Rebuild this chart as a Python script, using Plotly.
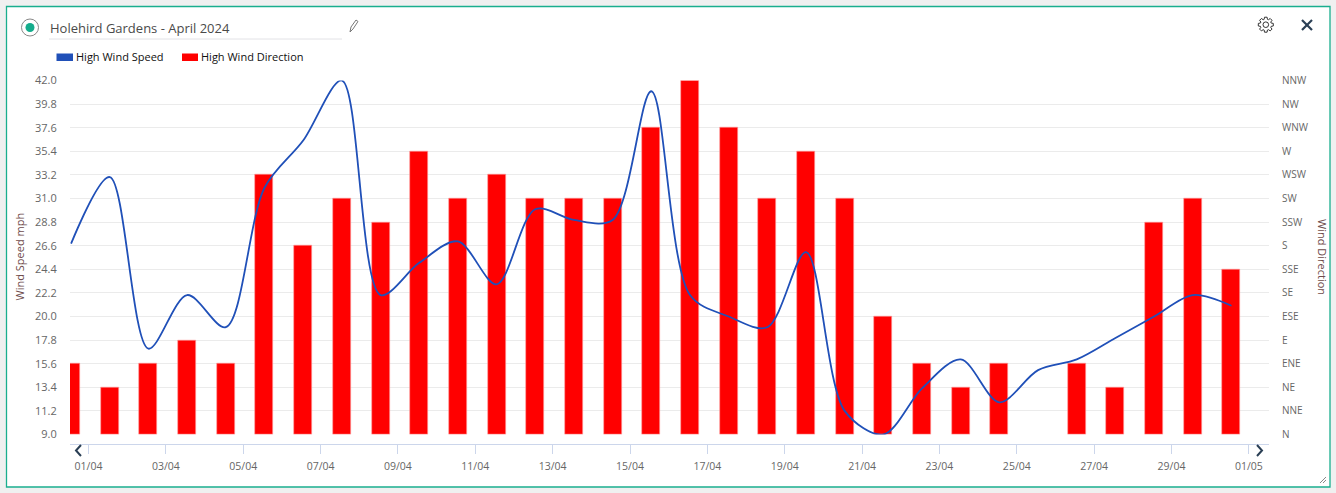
import math
import plotly.graph_objects as go

W, H = 1336, 493
FONT = "Open Sans"
day_offsets = [d - 0.45 for d in range(31)]
wind_speed = [26.8, 33, 17, 22, 19, 32, 36.4, 42, 22, 25, 27, 23, 30, 29, 29, 41,
              22, 20, 19, 26, 11.2, 9, 13.3, 16, 12, 15, 16, 18, 20, 22, 21]
direction_labels = ["N", "NNE", "NE", "ENE", "E", "ESE", "SE", "SSE", "S", "SSW", "SW",
                    "WSW", "W", "WNW", "NW", "NNW"]
wind_direction = [3, 2, 3, 4, 3, 11, 8, 10, 9, 12, 10, 11, 10, 10, 10, 13, 15, 13, 10, 12,
                  10, 5, 3, 2, 3, None, 3, 2, 9, 10, 7]
speed_ticks = [9.0, 11.2, 13.4, 15.6, 17.8, 20.0, 22.2, 24.4, 26.6, 28.8, 31.0, 33.2, 35.4,
               37.6, 39.8, 42.0]
date_tickvals = list(range(0, 31, 2))
date_labels = ["01/04", "03/04", "05/04", "07/04", "09/04", "11/04", "13/04", "15/04", "17/04",
               "19/04", "21/04", "23/04", "25/04", "27/04", "29/04", "01/05"]

BLUE = "#2050b8"
RED = "#ff0000"
TICK = "#666666"
TITLE = "#6e4a4a"

def px(x): return x / W
def py(y): return 1 - y / H

fig = go.Figure()
fig.add_trace(go.Bar(x=day_offsets, y=wind_direction, yaxis="y", name="High Wind Direction",
                     width=0.465, marker=dict(color=RED, line=dict(color="#ffa0a0", width=0.6)),
                     showlegend=False))
fig.add_trace(go.Scatter(x=day_offsets, y=wind_speed, yaxis="y2", mode="lines", name="High Wind Speed",
                         line=dict(color=BLUE, width=1.8, shape="spline", smoothing=0.9),
                         showlegend=False, cliponaxis=False))

shapes = [
    dict(type="rect", xref="paper", yref="paper", x0=px(6.5), x1=px(1330), y0=py(487), y1=py(6.5),
         line=dict(color="#1aae8e", width=1.3), fillcolor="#ffffff", layer="below"),
    dict(type="line", xref="paper", yref="paper", x0=px(49), x1=px(342), y0=py(39), y1=py(39),
         line=dict(color="#e2e2e6", width=1)),
    dict(type="circle", xref="paper", yref="paper", x0=px(21.5), x1=px(38.5), y0=py(36), y1=py(19),
         line=dict(color="#888888", width=1), fillcolor="#ffffff"),
    dict(type="circle", xref="paper", yref="paper", x0=px(25.5), x1=px(34.5), y0=py(32), y1=py(23),
         line=dict(width=0), fillcolor="#14ac8c"),
    dict(type="rect", xref="paper", yref="paper", x0=px(56.5), x1=px(73), y0=py(61), y1=py(53.5),
         line=dict(width=0), fillcolor=BLUE),
    dict(type="rect", xref="paper", yref="paper", x0=px(182), x1=px(198), y0=py(61), y1=py(53.5),
         line=dict(width=0), fillcolor=RED),
]
def path_shape(points, color, width, close=False):
    d = "M" + " L".join(f"{px(a):.5f},{py(b):.5f}" for a, b in points) + (" Z" if close else "")
    return dict(type="path", xref="paper", yref="paper", path=d, line=dict(color=color, width=width))

gear = []
for i in range(8):
    a0 = i * math.pi / 4
    for da, r in [(-0.30, 5.6), (-0.17, 7.6), (0.17, 7.6), (0.30, 5.6)]:
        gear.append((1265.8 + r * math.cos(a0 + da), 24.7 + r * math.sin(a0 + da)))

shapes += [
    path_shape([(81, 445), (76, 450.5), (81, 456)], "#2a3f55", 2),
    path_shape([(1257, 445), (1262, 450.5), (1257, 456)], "#2a3f55", 2),
    path_shape([(1302, 20), (1312, 30)], "#2a3f55", 2.2),
    path_shape([(1312, 20), (1302, 30)], "#2a3f55", 2.2),
    path_shape([(1320, 483), (1326, 477)], "#888888", 1),
    path_shape([(1323, 483), (1326, 480)], "#888888", 1),
    path_shape([(350, 32), (351, 27), (356, 20), (358, 21.5), (353, 29), (350, 32)], "#777777", 1),
    path_shape(gear, "#333333", 1, close=True),
    dict(type="circle", xref="paper", yref="paper", x0=px(1263), x1=px(1268.6), y0=py(27.5), y1=py(21.9),
         line=dict(color="#333333", width=1)),
]

def note(x, y, text, size, color, xanchor="left", angle=0):
    return dict(x=px(x), y=py(y), xref="paper", yref="paper", text=text, showarrow=False, xanchor=xanchor,
                yanchor="middle", textangle=angle, font=dict(family=FONT, size=size, color=color))
annotations = [
    note(47.5, 27.5, "Holehird Gardens - April 2024", 13, "#4a4a4a"),
    note(73.5, 57, "High Wind Speed", 11, "#111111"),
    note(199, 57, "High Wind Direction", 11, "#111111"),
    note(19, 256.5, "Wind Speed mph", 11, TITLE, "center", -90),
    note(1323, 257, "Wind Direction", 11, TITLE, "center", 90),
]

fig.update_layout(
    width=W, height=H, autosize=False,
    margin=dict(l=0, r=0, t=0, b=0, pad=0),
    paper_bgcolor="#f0f0f0", plot_bgcolor="rgba(0,0,0,0)",
    showlegend=False, bargap=0,
    font=dict(family=FONT, size=10.5, color=TICK),
    shapes=shapes, annotations=annotations,
    xaxis=dict(domain=[px(70), px(1269)], range=[-0.478, 30.52], anchor="free", position=py(443.5),
               automargin=False,
               tickmode="array", tickvals=date_tickvals, ticktext=date_labels,
               showgrid=False, zeroline=False, showline=True, linecolor="#ccd6eb", linewidth=1,
               ticks="outside", ticklen=9, tickwidth=1, tickcolor="#ccd6eb", ticklabelstandoff=4,
               tickfont=dict(family=FONT, size=10.5, color=TICK)),
    yaxis=dict(domain=[py(434.5), py(80.5)], range=[0, 15], side="right", anchor="x", automargin=False,
               tickmode="array", tickvals=list(range(16)), ticktext=direction_labels,
               showgrid=True, gridcolor="#ebebeb", gridwidth=1, zeroline=False, showline=False,
               ticks="outside", ticklen=10, tickcolor="rgba(0,0,0,0)",
               tickfont=dict(family=FONT, size=10, color=TICK)),
    yaxis2=dict(domain=[py(434.5), py(80.5)], range=[9, 42], overlaying="y", side="left", anchor="x",
                automargin=False,
                tickmode="array", tickvals=speed_ticks, ticktext=[f"{v:.1f}" for v in speed_ticks],
                showgrid=False, zeroline=False, showline=False,
                ticks="outside", ticklen=10, tickcolor="rgba(0,0,0,0)",
                tickfont=dict(family=FONT, size=11, color=TICK)),
)
fig.write_html("out.html", config=dict(displayModeBar=False),
               post_script="document.documentElement.style.background='#f0f0f0';"
                           "document.body.style.margin='0';document.body.style.overflow='hidden';")
